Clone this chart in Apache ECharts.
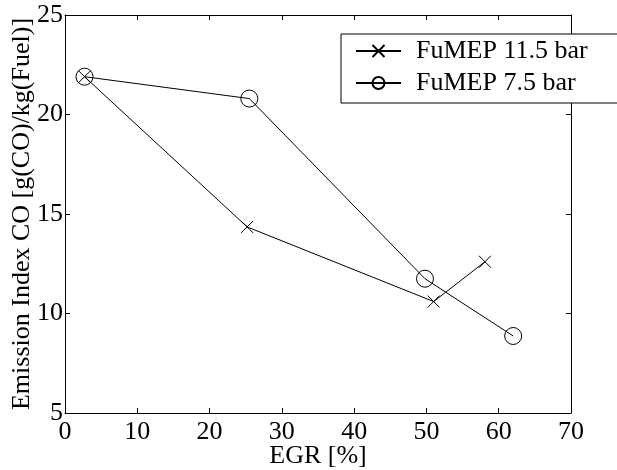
<!DOCTYPE html>
<html>
<head>
<meta charset="utf-8">
<script src="https://cdn.jsdelivr.net/npm/echarts@6/dist/echarts.min.js"></script>
<style>html,body{margin:0;padding:0;background:#fff}#c{width:617px;height:470px}</style>
</head>
<body>
<div id="c"></div>
<script>
// Data
const seriesNames = ['FuMEP 11.5 bar', 'FuMEP 7.5 bar'];
const egr115 = [2.7, 25.2, 51.0, 58.1];
const co115 = [21.9, 14.35, 10.6, 12.6];
const egr75 = [2.7, 25.5, 49.8, 62.0];
const co75 = [21.9, 20.8, 11.75, 8.87];
const xTicks = [0, 10, 20, 30, 40, 50, 60, 70];
const yTicks = [5, 10, 15, 20, 25];
const xName = 'EGR [%]';
const yName = 'Emission Index CO [g(CO)/kg(Fuel)]';

const FONT = '"Liberation Serif", "DejaVu Serif", serif';
const pair = (xs, ys) => xs.map((x, i) => [x, ys[i]]);

const chart = echarts.init(document.getElementById('c'), null, {renderer: 'canvas'});
const axisCommon = {
  axisLine: {show: true, onZero: false, lineStyle: {color: '#000', width: 1}},
  axisTick: {show: true, inside: true, length: 5, lineStyle: {color: '#000', width: 1}},
  splitLine: {show: false}
};
chart.setOption({
  animation: false,
  backgroundColor: '#fff',
  grid: {left: 65, top: 15, right: 46, bottom: 57, containLabel: false, outerBoundsMode: 'none'},
  legend: {
    show: true,
    orient: 'vertical',
    left: 341, top: 34,
    padding: [4, 40, 7, 14],
    itemWidth: 45, itemHeight: 15, itemGap: 6,
    borderColor: '#000', borderWidth: 1, backgroundColor: '#fff',
    textStyle: {fontFamily: FONT, fontSize: 26, color: '#000', lineHeight: 26, padding: [0, 0, 0, 10]},
    data: seriesNames
  },
  xAxis: [
    Object.assign({
      type: 'value', position: 'bottom', min: xTicks[0], max: xTicks[xTicks.length - 1], interval: 10,
      name: xName, nameLocation: 'middle', nameGap: 30, nameMoveOverlap: false,
      nameTextStyle: {fontFamily: FONT, fontSize: 26, color: '#000'},
      axisLabel: {fontFamily: FONT, fontSize: 26, color: '#000', margin: 6, verticalAlign: 'top'}
    }, axisCommon),
    Object.assign({
      type: 'value', position: 'top', min: xTicks[0], max: xTicks[xTicks.length - 1], interval: 10,
      axisLabel: {show: false}
    }, axisCommon)
  ],
  yAxis: [
    Object.assign({
      type: 'value', position: 'left', min: yTicks[0], max: yTicks[yTicks.length - 1], interval: 5,
      name: yName, nameLocation: 'middle', nameGap: 30, nameMoveOverlap: false,
      nameTextStyle: {fontFamily: FONT, fontSize: 26, color: '#000'},
      axisLabel: {fontFamily: FONT, fontSize: 26, color: '#000', margin: 2}
    }, axisCommon),
    Object.assign({
      type: 'value', position: 'right', min: yTicks[0], max: yTicks[yTicks.length - 1], interval: 5,
      axisLabel: {show: false}
    }, axisCommon)
  ],
  series: [
    {
      name: seriesNames[0], type: 'line', data: pair(egr115, co115),
      symbol: 'path://M0,0L10,10M10,0L0,10', symbolSize: 12, showSymbol: true,
      lineStyle: {color: '#000', width: 1},
      itemStyle: {color: 'none', borderColor: '#000', borderWidth: 1},
      emphasis: {disabled: true}, z: 3
    },
    {
      name: seriesNames[1], type: 'line', data: pair(egr75, co75),
      symbol: 'circle', symbolSize: 17, showSymbol: true,
      lineStyle: {color: '#000', width: 1},
      itemStyle: {color: 'none', borderColor: '#000', borderWidth: 1},
      emphasis: {disabled: true}, z: 2
    }
  ]
});
</script>
</body>
</html>
